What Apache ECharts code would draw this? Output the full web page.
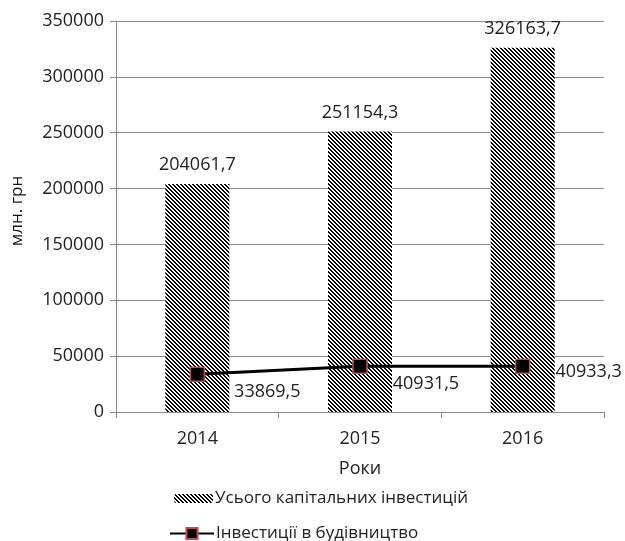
<!DOCTYPE html>
<html>
<head>
<meta charset="utf-8">
<script src="https://cdn.jsdelivr.net/npm/echarts@6/dist/echarts.min.js"></script>
<style>html,body{margin:0;padding:0;background:#fff}#c{width:625px;height:541px}</style>
</head>
<body>
<div id="c"></div>
<script>
var years = ['2014', '2015', '2016'];
var totalInvestment = [204061.7, 251154.3, 326163.7];
var constructionInvestment = [33869.5, 40931.5, 40933.3];
var seriesNames = ['Усього капітальних інвестицій', 'Інвестиції в будівництво'];
var yAxisTitle = 'млн. грн';
var xAxisTitle = 'Роки';

function fmt(v) { return String(v).replace('.', ','); }

var tile = document.createElement('canvas');
tile.width = 4; tile.height = 4;
var g = tile.getContext('2d');
g.fillStyle = '#fff'; g.fillRect(0, 0, 4, 4);
g.fillStyle = '#000';
for (var y = 0; y < 4; y++) {
  for (var x = 0; x < 4; x++) {
    var m = ((x - y) % 4 + 4) % 4;
    if (m === 0 || m === 1) g.fillRect(x, y, 1, 1);
  }
}
var hatch = { image: tile, repeat: 'repeat' };

var lineOffsets = [[24, 18], [20, 18], [20, 6]];
var FONT = 'Open Sans';

var chart = echarts.init(document.getElementById('c'));
chart.setOption({
  animation: false,
  textStyle: { fontFamily: FONT },
  grid: { left: 116, right: 21, top: 21, bottom: 129, containLabel: false },
  graphic: [{
    type: 'text', x: 17, y: 211, rotation: Math.PI / 2,
    style: { text: yAxisTitle, fontFamily: FONT, fontSize: 17, fill: '#111',
      align: 'center', verticalAlign: 'middle' }
  }],
  legend: [
    { data: [seriesNames[0]], left: 169, top: 485, itemWidth: 39, itemHeight: 9,
      textStyle: { fontFamily: FONT, fontSize: 17, color: '#222', padding: [0, 0, 0, -3] } },
    { data: [seriesNames[1]], left: 164, top: 520, itemWidth: 44, itemHeight: 14,
      textStyle: { fontFamily: FONT, fontSize: 17, color: '#222', padding: [0, 0, 0, -3] } }
  ],
  xAxis: {
    type: 'category', data: years,
    name: xAxisTitle, nameLocation: 'middle', nameGap: 48,
    nameTextStyle: { fontFamily: FONT, fontSize: 18, color: '#222' },
    axisLine: { lineStyle: { color: '#888' } },
    axisTick: { show: true, length: 6, lineStyle: { color: '#888' } },
    axisLabel: { fontFamily: FONT, fontSize: 18, color: '#222', margin: 18 }
  },
  yAxis: {
    type: 'value', min: 0, max: 350000, interval: 50000,
    axisLine: { show: true, lineStyle: { color: '#888' } },
    axisTick: { show: true, length: 6, lineStyle: { color: '#888' } },
    axisLabel: { fontFamily: FONT, fontSize: 18, color: '#222', margin: 12,
      formatter: function (v) { return String(v); } },
    splitLine: { lineStyle: { color: '#8c8c8c', width: 1 } }
  },
  series: [
    {
      name: seriesNames[0], type: 'bar', data: totalInvestment, barWidth: 64,
      itemStyle: { color: hatch },
      label: { show: true, position: 'top', distance: 10, fontFamily: FONT, fontSize: 18, color: '#222',
        formatter: function (p) { return fmt(p.value); } }
    },
    {
      name: seriesNames[1], type: 'line', data: constructionInvestment.map(function (v, i) {
        return { value: v, label: { offset: lineOffsets[i] } };
      }),
      symbol: 'rect', symbolSize: 14, z: 5,
      lineStyle: { color: '#000', width: 3 },
      itemStyle: { color: '#000', borderColor: '#c0504d', borderWidth: 1.5 },
      label: { show: true, position: 'right', fontFamily: FONT, fontSize: 18, color: '#222',
        formatter: function (p) { return fmt(p.value); } }
    }
  ]
});
</script>
</body>
</html>
